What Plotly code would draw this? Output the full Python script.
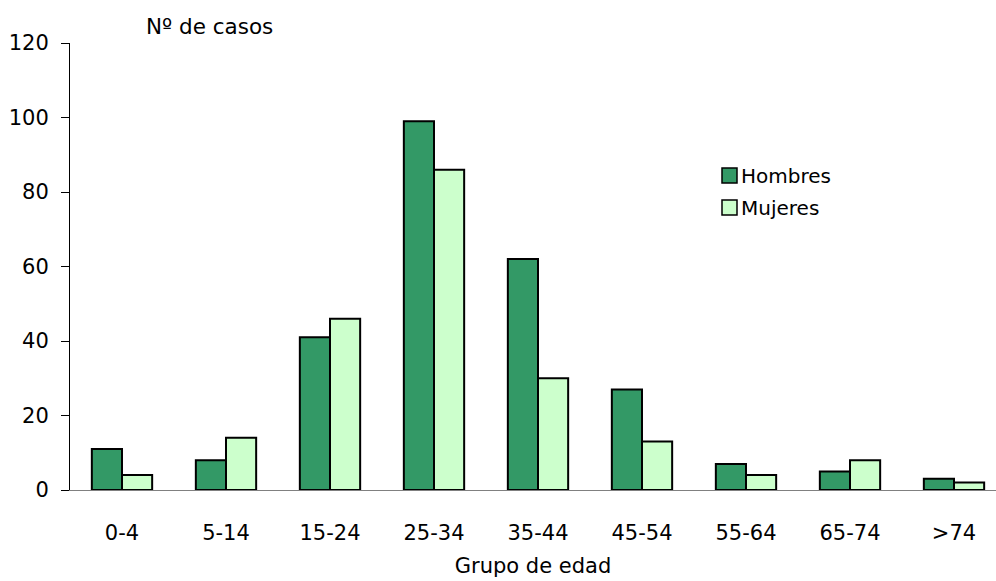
import plotly.graph_objects as go

# Casos por grupo de edad y sexo
grupos = ["0-4", "5-14", "15-24", "25-34", "35-44", "45-54", "55-64", "65-74", ">74"]
hombres = [11, 8, 41, 99, 62, 27, 7, 5, 3]
mujeres = [4, 14, 46, 86, 30, 13, 4, 8, 2]
y_ticks = [0, 20, 40, 60, 80, 100, 120]

COLOR_H = "#339966"
COLOR_M = "#CCFFCC"
FONT = "DejaVu Sans"

W, H = 996, 581
L, T, B = 70, 43, 91
plot_w = W - L
plot_h = H - T - B

fig = go.Figure()
fig.add_trace(go.Bar(x=grupos, y=hombres, name="Hombres",
                     marker=dict(color=COLOR_H, line=dict(color="black", width=2))))
fig.add_trace(go.Bar(x=grupos, y=mujeres, name="Mujeres",
                     marker=dict(color=COLOR_M, line=dict(color="black", width=2))))

fig.update_layout(
    width=W, height=H,
    margin=dict(l=L, r=0, t=T, b=B, pad=0),
    paper_bgcolor="white", plot_bgcolor="white",
    barmode="group", bargap=0.42, bargroupgap=0,
    showlegend=False,
    font=dict(family=FONT, size=21, color="black"),
)

fig.update_xaxes(
    range=[-0.5, 8.5 - 10 / 104],
    showline=True, linecolor="#808080", linewidth=1,
    ticks="", showgrid=False, zeroline=False,
    tickfont=dict(size=21), ticklabelstandoff=24,
    title=dict(text="Grupo de edad", font=dict(size=21), standoff=14),
)
fig.update_yaxes(
    range=[0, 120], tickvals=y_ticks,
    showline=True, linecolor="black", linewidth=1,
    ticks="outside", ticklen=8, tickcolor="black",
    showgrid=False, zeroline=False,
    tickfont=dict(size=21), ticklabelstandoff=8,
)

# Título del eje Y
fig.add_annotation(text="Nº de casos", xref="paper", yref="paper",
                   x=(144 - L) / plot_w, y=1 + (T - 27) / plot_h,
                   xanchor="left", yanchor="middle", showarrow=False,
                   font=dict(size=21.5))

# Leyenda
def px_x(p):
    return (p - L) / plot_w

def px_y(p):
    return 1 - (p - T) / plot_h

for i, (nombre, color) in enumerate([("Hombres", COLOR_H), ("Mujeres", COLOR_M)]):
    y0 = 168 + i * 32
    fig.add_shape(type="rect", xref="paper", yref="paper",
                  x0=px_x(722), x1=px_x(737), y0=px_y(y0 + 15), y1=px_y(y0),
                  fillcolor=color, line=dict(color="black", width=1.5))
    fig.add_annotation(text=nombre, xref="paper", yref="paper",
                       x=px_x(739), y=px_y(y0 + 7.5),
                       xanchor="left", yanchor="middle", showarrow=False,
                       font=dict(size=20))

fig.write_html("out.html")
